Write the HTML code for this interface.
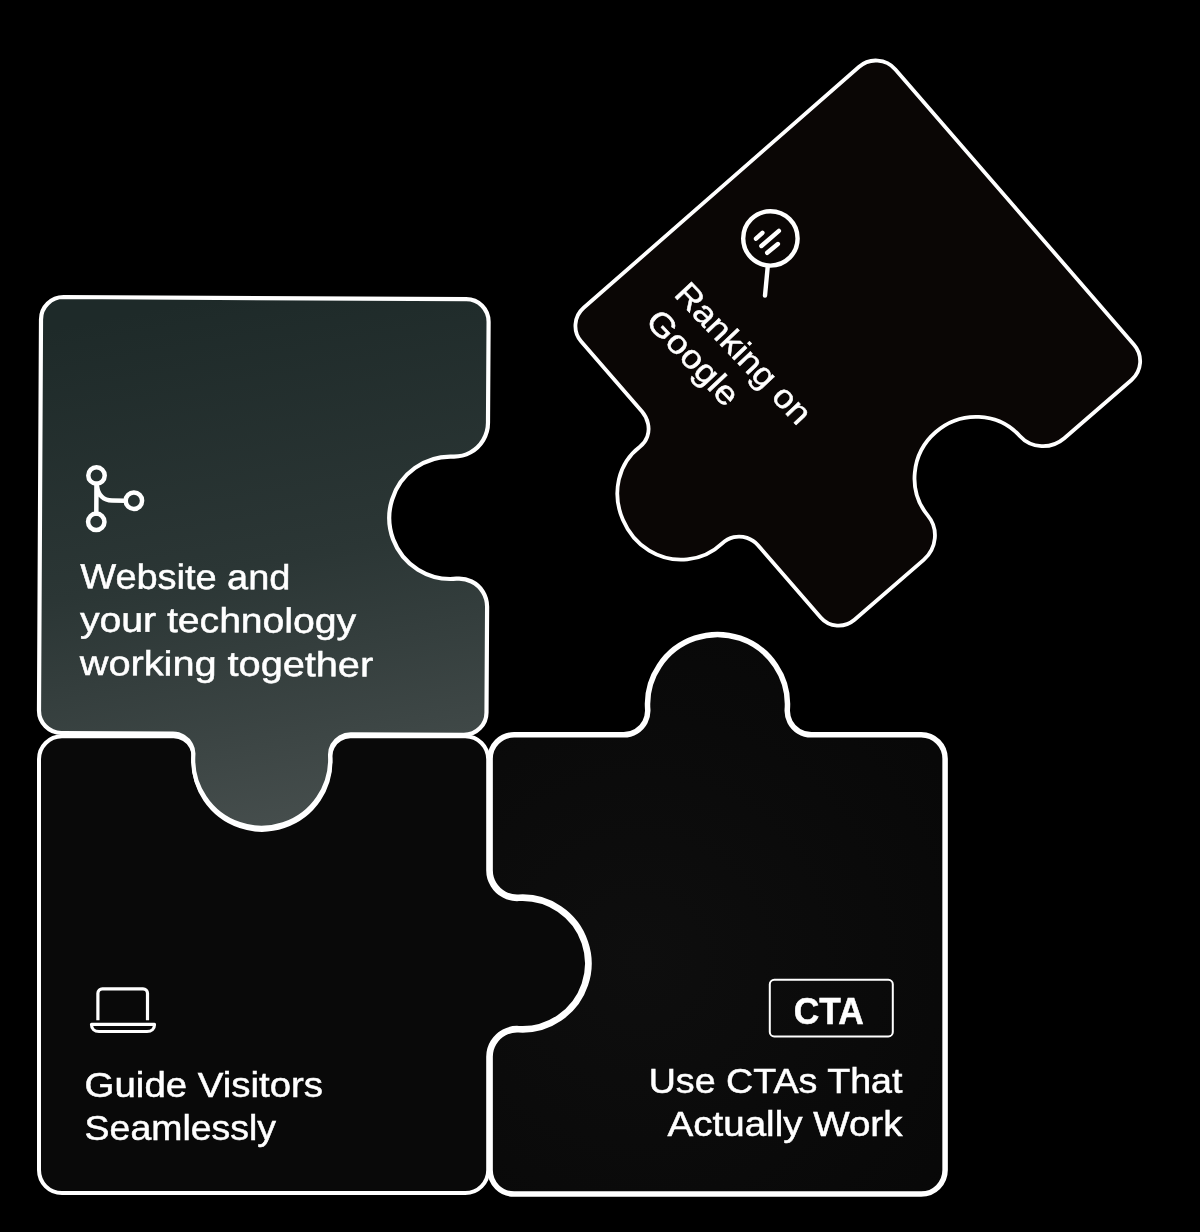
<!DOCTYPE html>
<html><head><meta charset="utf-8"><title>Puzzle</title>
<style>html,body{margin:0;padding:0;background:#000;}body{width:1200px;height:1232px;overflow:hidden;}text{font-family:'Liberation Sans',sans-serif;}</style></head>
<body>
<svg width="1200" height="1232" viewBox="0 0 1200 1232" style="display:block;font-family:'Liberation Sans',sans-serif" fill="#fff">
<defs>
<linearGradient id="g1" gradientUnits="userSpaceOnUse" x1="205" y1="300" x2="300" y2="830">
<stop offset="0" stop-color="#1e2a29"/><stop offset="0.5" stop-color="#2b3635"/><stop offset="1" stop-color="#464e4d"/>
</linearGradient>
<radialGradient id="g3" gradientUnits="userSpaceOnUse" cx="640" cy="960" r="420">
<stop offset="0" stop-color="#0e0e0e"/><stop offset="1" stop-color="#070707"/>
</radialGradient>
<filter id="gs" x="0" y="0" width="1200" height="1232" filterUnits="userSpaceOnUse" color-interpolation-filters="sRGB"><feColorMatrix type="saturate" values="0"/></filter>
</defs>
<rect width="1200" height="1232" fill="#000"/>
<path d="M895.4,69.4 L1134.0,344.7 C1138.4,349.7 1140.5,356.3 1140.1,362.9 C1139.6,369.5 1136.5,375.6 1131.5,380.0 L1064.3,438.2 C1057.9,443.7 1049.7,446.5 1041.4,446.1 C1033.1,445.7 1025.3,442.1 1019.8,436.0 C1009.3,424.5 994.7,417.6 979.0,416.9 C963.3,416.1 947.8,421.6 935.8,432.0 C923.8,442.4 916.2,457.0 914.8,472.6 C913.3,488.3 918.0,503.7 927.9,515.6 C933.1,521.9 935.6,530.1 934.8,538.4 C934.0,546.7 930.0,554.4 923.7,559.9 L854.5,619.8 C849.7,623.9 843.4,626.0 837.0,625.6 C830.7,625.2 824.8,622.3 820.7,617.5 L758.0,545.3 C755.1,541.9 751.2,539.3 747.0,537.9 C742.7,536.4 738.1,536.2 733.8,537.1 C729.4,538.1 725.4,540.2 722.2,543.3 C712.7,552.4 700.4,558.0 687.2,559.4 C674.0,560.7 660.7,557.7 649.2,550.7 C637.8,543.8 628.5,532.9 622.9,519.8 C617.2,506.7 615.9,492.5 618.9,479.3 C622.0,466.1 629.4,454.7 639.9,446.7 C643.3,444.2 645.8,440.7 647.3,436.6 C648.7,432.6 649.0,428.1 648.0,423.7 C647.1,419.3 645.0,415.1 642.0,411.6 L581.2,341.6 C577.1,336.8 575.0,330.6 575.5,324.2 C575.9,317.9 578.9,312.0 583.7,307.8 L858.8,67.0 C864.0,62.4 870.8,60.1 877.6,60.6 C884.5,61.0 890.9,64.2 895.4,69.4 Z" fill="#0a0605" stroke="#fff" stroke-width="3.8" stroke-linejoin="round"/>
<path d="M62.0,736.3 L173.6,736.3 C177.3,736.3 180.8,737.3 184.0,739.2 C187.1,741.0 189.6,743.7 191.3,747.0 C193.0,750.2 193.8,753.8 193.6,757.4 C192.8,772.4 196.9,787.2 205.2,799.7 C213.6,812.1 225.9,821.4 240.1,826.2 C254.3,831.0 269.7,831.0 283.9,826.2 C298.1,821.4 310.4,812.1 318.8,799.7 C327.1,787.2 331.2,772.4 330.4,757.4 C330.2,753.8 331.0,750.2 332.7,747.0 C334.4,743.7 336.9,741.0 340.0,739.2 C343.2,737.3 346.7,736.3 350.4,736.3 L465.2,736.3 C471.3,736.3 477.2,738.7 481.5,743.0 C485.8,747.3 488.2,753.2 488.2,759.3 L488.2,870.2 C488.2,875.4 489.6,880.6 492.4,885.1 C495.1,889.6 499.0,893.3 503.7,895.8 C508.3,898.3 513.6,899.4 518.8,899.1 C532.9,898.3 546.9,902.2 558.6,910.1 C570.3,918.0 579.1,929.5 583.6,942.9 C588.1,956.3 588.1,970.7 583.6,984.1 C579.1,997.5 570.3,1009.0 558.6,1016.9 C546.9,1024.8 532.9,1028.7 518.8,1027.9 C513.6,1027.6 508.3,1028.7 503.7,1031.2 C499.0,1033.7 495.1,1037.4 492.4,1041.9 C489.6,1046.4 488.2,1051.6 488.2,1056.8 L488.2,1170.0 C488.2,1176.1 485.8,1182.0 481.5,1186.3 C477.2,1190.6 471.3,1193.0 465.2,1193.0 L62.0,1193.0 C55.9,1193.0 50.0,1190.6 45.7,1186.3 C41.4,1182.0 39.0,1176.1 39.0,1170.0 L39.0,759.3 C39.0,753.2 41.4,747.3 45.7,743.0 C50.0,738.7 55.9,736.3 62.0,736.3 Z" fill="#090909" stroke="#fff" stroke-width="4" stroke-linejoin="round"/>
<path d="M514.1,734.8 L623.7,734.8 C628.1,734.8 632.4,733.6 636.2,731.3 C639.9,729.0 643.0,725.8 645.0,721.9 C647.0,718.0 648.0,713.6 647.7,709.2 C646.6,693.8 650.7,678.5 659.3,665.7 C667.8,652.8 680.4,643.2 695.0,638.2 C709.6,633.3 725.4,633.3 740.0,638.2 C754.6,643.2 767.2,652.8 775.7,665.7 C784.3,678.5 788.4,693.8 787.3,709.2 C787.0,713.6 788.0,718.0 790.0,721.9 C792.0,725.8 795.1,729.0 798.8,731.3 C802.6,733.6 806.9,734.8 811.3,734.8 L921.1,734.8 C927.5,734.8 933.6,737.3 938.1,741.8 C942.6,746.3 945.1,752.4 945.1,758.8 L945.1,1170.1 C945.1,1176.5 942.6,1182.6 938.1,1187.1 C933.6,1191.6 927.5,1194.1 921.1,1194.1 L514.1,1194.1 C507.7,1194.1 501.6,1191.6 497.1,1187.1 C492.6,1182.6 490.1,1176.5 490.1,1170.1 L490.1,1056.7 C490.1,1051.8 491.4,1047.0 494.0,1042.8 C496.5,1038.6 500.2,1035.2 504.5,1032.9 C508.9,1030.6 513.8,1029.5 518.7,1029.8 C533.2,1030.6 547.6,1026.7 559.6,1018.5 C571.7,1010.4 580.8,998.5 585.4,984.7 C590.1,971.0 590.1,956.0 585.4,942.3 C580.8,928.5 571.7,916.6 559.6,908.5 C547.6,900.3 533.2,896.4 518.7,897.2 C513.8,897.5 508.9,896.4 504.5,894.1 C500.2,891.8 496.5,888.4 494.0,884.2 C491.4,880.0 490.1,875.2 490.1,870.3 L490.1,758.8 C490.1,752.4 492.6,746.3 497.1,741.8 C501.6,737.3 507.7,734.8 514.1,734.8 Z" fill="url(#g3)" stroke="#fff" stroke-width="5.5" stroke-linejoin="round"/>
<path d="M63.6,297.0 L466.2,299.2 C472.2,299.2 477.9,301.6 482.1,305.8 C486.3,310.1 488.6,315.8 488.6,321.8 L488.0,422.8 C488.0,428.9 486.3,434.9 483.2,440.1 C480.1,445.3 475.6,449.6 470.3,452.5 C464.9,455.4 458.9,456.8 452.8,456.6 C439.3,456.1 426.0,460.1 415.0,467.9 C404.0,475.7 395.9,486.9 392.0,499.8 C388.0,512.7 388.4,526.5 393.1,539.2 C397.8,551.8 406.6,562.5 418.0,569.7 C429.5,576.8 443.0,580.0 456.4,578.7 C461.6,578.2 466.9,579.2 471.5,581.5 C476.2,583.8 480.2,587.4 482.9,591.8 C485.7,596.3 487.1,601.4 487.1,606.7 L486.5,712.4 C486.5,718.4 484.1,724.1 479.8,728.3 C475.6,732.5 469.9,734.8 463.9,734.8 L350.7,734.3 C346.9,734.3 343.3,735.3 340.1,737.2 C336.9,739.1 334.3,741.8 332.5,745.1 C330.7,748.4 329.9,752.1 330.1,755.8 C330.9,770.8 326.7,785.6 318.2,797.9 C309.8,810.3 297.5,819.6 283.2,824.3 C269.0,829.0 253.6,829.0 239.5,824.1 C225.3,819.3 213.1,809.9 204.8,797.4 C196.4,785.0 192.4,770.2 193.3,755.2 C193.6,751.5 192.8,747.8 191.0,744.5 C189.3,741.2 186.7,738.4 183.5,736.5 C180.4,734.5 176.7,733.5 173.0,733.5 L61.3,733.0 C55.4,733.0 49.7,730.6 45.5,726.3 C41.3,722.1 38.9,716.4 39.0,710.4 L41.0,319.4 C41.0,313.4 43.4,307.7 47.7,303.5 C51.9,299.3 57.6,297.0 63.6,297.0 Z" fill="url(#g1)" stroke="#fff" stroke-width="4.2" stroke-linejoin="round"/>
<g filter="url(#gs)">
<g transform="rotate(0.3 264 516)">
<g fill="none" stroke="#fff" stroke-width="4.5" stroke-linecap="round"><circle cx="96.3" cy="476.4" r="8.2"/><circle cx="96.3" cy="522.7" r="8.2"/><circle cx="133.8" cy="501.4" r="8.2"/><path d="M96.3,484.6 V514.5 M96.8,487 C98,496 103.5,501.4 112,501.4 H125.6"/></g>
<text x="80.7" y="589.3" font-size="35" text-anchor="start" font-weight="normal" textLength="210.0" lengthAdjust="spacingAndGlyphs" stroke="#fff" stroke-width="0.5" >Website and</text>
<text x="80.7" y="632.5" font-size="35" text-anchor="start" font-weight="normal" textLength="276.0" lengthAdjust="spacingAndGlyphs" stroke="#fff" stroke-width="0.5" >your technology</text>
<text x="80.7" y="676.0" font-size="35" text-anchor="start" font-weight="normal" textLength="293.3" lengthAdjust="spacingAndGlyphs" stroke="#fff" stroke-width="0.5" >working together</text>
</g>
<g fill="none" stroke="#fff" stroke-width="3.2" stroke-linejoin="round"><path d="M97.9,1020.2 V993.3 a4.5,4.5 0 0 1 4.5,-4.5 H143 a4.5,4.5 0 0 1 4.5,4.5 V1020.2"/><path d="M91.5,1024.4 H154.5 C154.5,1028.5 151.5,1031.5 147,1031.5 H99 C94.5,1031.5 91.5,1028.5 91.5,1024.4 Z"/></g>
<text x="84.6" y="1096.8" font-size="35" text-anchor="start" font-weight="normal" textLength="238.5" lengthAdjust="spacingAndGlyphs" stroke="#fff" stroke-width="0.5" >Guide Visitors</text>
<text x="84.6" y="1140.4" font-size="35" text-anchor="start" font-weight="normal" textLength="191.4" lengthAdjust="spacingAndGlyphs" stroke="#fff" stroke-width="0.5" >Seamlessly</text>
<rect x="769.8" y="979.8" width="123" height="56.6" rx="4.5" fill="none" stroke="#fff" stroke-width="2"/>
<text x="793.8" y="1023.8" font-size="36" text-anchor="start" font-weight="bold" textLength="70.0" lengthAdjust="spacingAndGlyphs" stroke="#fff" stroke-width="0.5" >CTA</text>
<text x="902.5" y="1092.5" font-size="35" text-anchor="end" font-weight="normal" textLength="253.8" lengthAdjust="spacingAndGlyphs" stroke="#fff" stroke-width="0.5" >Use CTAs That</text>
<text x="902.5" y="1136.3" font-size="35" text-anchor="end" font-weight="normal" textLength="235.0" lengthAdjust="spacingAndGlyphs" stroke="#fff" stroke-width="0.5" >Actually Work</text>
<g fill="none" stroke="#fff" stroke-width="4.4" stroke-linecap="round"><circle cx="770.4" cy="238.4" r="27.2"/><path d="M767.7,266.9 L765,295.6 M756,238.7 L762.4,232.8 M761.4,246 L778.9,230.9 M767.2,252.8 L777.9,244"/></g>
<g transform="translate(673 295.3) rotate(46.5)">
<text x="0.0" y="0.0" font-size="33" text-anchor="start" font-weight="normal" textLength="181.0" lengthAdjust="spacingAndGlyphs" stroke="#fff" stroke-width="0.5" >Ranking on</text>
<text x="0.0" y="39.6" font-size="33" text-anchor="start" font-weight="normal" textLength="118.0" lengthAdjust="spacingAndGlyphs" stroke="#fff" stroke-width="0.5" >Google</text>
</g>
</g>
</svg>
</body></html>
